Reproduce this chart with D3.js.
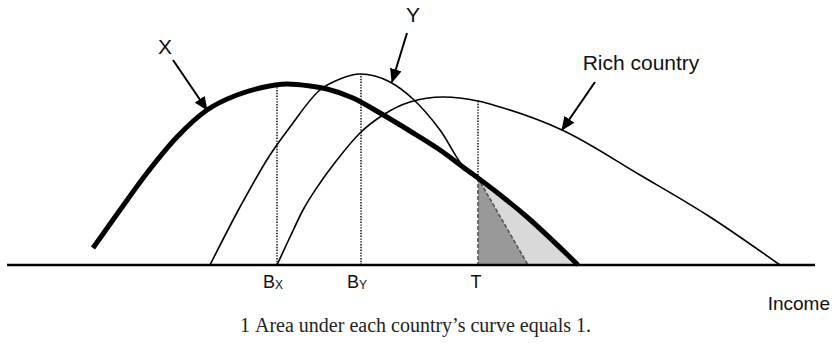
<!DOCTYPE html>
<html>
<head>
<meta charset="utf-8">
<script src="https://cdn.jsdelivr.net/npm/d3@7"></script>
<style>
  body { margin: 0; background: #fff; }
  svg { display: block; }
</style>
</head>
<body>
<div id="chart"></div>
<script>

  // income / density values (density: arbitrary units)
  var countryX = [
    [86, 17], [113, 55], [140, 92], [170, 128], [200, 155], [230, 170], [253, 177],
    [280, 181], [303, 179], [320, 176], [346, 167], [373, 152], [403, 134], [433, 115],
    [460, 95], [471, 87], [520, 48], [571, 0]
  ];
  var countryY = [
    [203, 0], [233, 58], [263, 110], [283, 138], [313, 175], [333, 186], [353, 191],
    [383, 183], [406, 166], [433, 135], [459, 95], [469, 87]
  ];
  var richCountry = [
    [270, 0], [283, 28], [296, 55], [313, 82], [330, 105], [353, 132], [376, 150],
    [403, 163], [436, 168], [471, 164], [493, 158], [555, 135], [633, 90], [700, 50], [773, 0]
  ];

  // markers on the income axis: [label, subscript, income, top of dotted line, bottom of dotted line]
  var markers = [
    ["B", "X", 270, 178, 0],
    ["B", "Y", 354, 191, 0],
    ["T", "", 471, 164, 87]
  ];
  var tailEnd = 521;   // where Y's tail reaches the axis

  // callouts: [text, label income, label density, arrow start, arrow tip]
  var callouts = [
    ["X", 158, 211, [166, 205], [200, 155]],
    ["Y", 406, 243, [400, 232], [385, 183]],
    ["Rich country", 634, 195, [588, 183], [555, 135]]
  ];

  var width = 836, height = 350;

  var svg = d3.select("#chart")
    .append("svg")
    .attr("width", width)
    .attr("height", height);

  var x = d3.scaleLinear().domain([0, 808]).range([7, 815]);
  var y = d3.scaleLinear().domain([0, 200]).range([265, 65]);

  var line = d3.line()
    .x(function(d) { return x(d[0]); })
    .y(function(d) { return y(d[1]); })
    .curve(d3.curveMonotoneX);

  var defs = svg.append("defs");
  defs.append("marker")
    .attr("id", "head")
    .attr("markerUnits", "userSpaceOnUse")
    .attr("viewBox", "0 0 14 12")
    .attr("markerWidth", 14)
    .attr("markerHeight", 12)
    .attr("refX", 13)
    .attr("refY", 6)
    .attr("orient", "auto")
    .append("path")
    .attr("d", "M0,0 L14,6 L0,12 Z")
    .attr("fill", "#000");

  // light area under X beyond T
  var T = markers[2][2];
  var tail = countryX.filter(function(d) { return d[0] >= T; });
  var area = d3.area()
    .x(function(d) { return x(d[0]); })
    .y0(y(0))
    .y1(function(d) { return y(d[1]); })
    .curve(d3.curveMonotoneX);
  svg.append("path")
    .attr("d", area(tail))
    .attr("fill", "#d9d9d9");

  // dark triangle
  var tri = [[T, tail[0][1]], [T, 0], [tailEnd, 0]];
  svg.append("path")
    .attr("d", "M" + tri.map(function(d) { return x(d[0]) + "," + y(d[1]); }).join("L") + "Z")
    .attr("fill", "#999")
    .attr("stroke", "#555")
    .attr("stroke-width", 1.6)
    .attr("stroke-dasharray", "4,2");

  // dotted guides
  svg.selectAll(".guide")
    .data(markers)
    .enter()
    .append("line")
    .attr("class", "guide")
    .attr("x1", function(d) { return x(d[2]); })
    .attr("x2", function(d) { return x(d[2]); })
    .attr("y1", function(d) { return y(d[4]); })
    .attr("y2", function(d) { return y(d[3]); })
    .attr("stroke", "#000")
    .attr("stroke-width", 1.4)
    .attr("stroke-dasharray", "1.4,1.4");

  // axis
  svg.append("line")
    .attr("x1", x(0)).attr("x2", x(808))
    .attr("y1", y(0)).attr("y2", y(0))
    .attr("stroke", "#000")
    .attr("stroke-width", 2.4);

  // curves
  svg.append("path")
    .attr("d", line(richCountry))
    .attr("fill", "none").attr("stroke", "#000").attr("stroke-width", 1.6);
  svg.append("path")
    .attr("d", line(countryY))
    .attr("fill", "none").attr("stroke", "#000").attr("stroke-width", 1.6);
  svg.append("path")
    .attr("d", line(countryX))
    .attr("fill", "none").attr("stroke", "#000").attr("stroke-width", 5);

  // callouts
  var font = "'Liberation Sans', Arial, sans-serif";
  svg.selectAll(".arrow")
    .data(callouts)
    .enter()
    .append("line")
    .attr("x1", function(d) { return x(d[3][0]); })
    .attr("y1", function(d) { return y(d[3][1]); })
    .attr("x2", function(d) { return x(d[4][0]); })
    .attr("y2", function(d) { return y(d[4][1]); })
    .attr("stroke", "#000")
    .attr("stroke-width", 2)
    .attr("marker-end", "url(#head)");

  svg.selectAll(".callout")
    .data(callouts)
    .enter()
    .append("text")
    .attr("x", function(d) { return x(d[1]); })
    .attr("y", function(d) { return y(d[2]); })
    .attr("text-anchor", "middle")
    .attr("font-family", font)
    .attr("font-size", 21)
    .attr("fill", "#111")
    .text(function(d) { return d[0]; });

  // marker labels
  var lab = svg.selectAll(".mlabel")
    .data(markers)
    .enter()
    .append("text")
    .attr("x", function(d) { return x(d[2]) + (d[1] ? -4 : -2); })
    .attr("y", 288)
    .attr("text-anchor", "middle")
    .attr("font-family", font)
    .attr("font-size", 18)
    .attr("fill", "#111");
  lab.append("tspan").text(function(d) { return d[0]; });
  lab.append("tspan")
    .attr("font-size", 12)
    .attr("dy", 1)
    .text(function(d) { return d[1]; });

  svg.append("text")
    .attr("x", 830)
    .attr("y", 310)
    .attr("text-anchor", "end")
    .attr("font-family", font)
    .attr("font-size", 19)
    .attr("fill", "#111")
    .text("Income");

  // footnote
  var note = svg.append("text")
    .attr("y", 332)
    .attr("font-family", "'Liberation Serif', 'DejaVu Serif', serif")
    .attr("font-size", 20)
    .attr("fill", "#222")
    .style("font-variant-numeric", "oldstyle-nums");
  note.append("tspan").attr("x", 240).text("1");
  note.append("tspan").attr("x", 255).text("Area under each country’s curve equals 1.");

</script>
</body>
</html>
